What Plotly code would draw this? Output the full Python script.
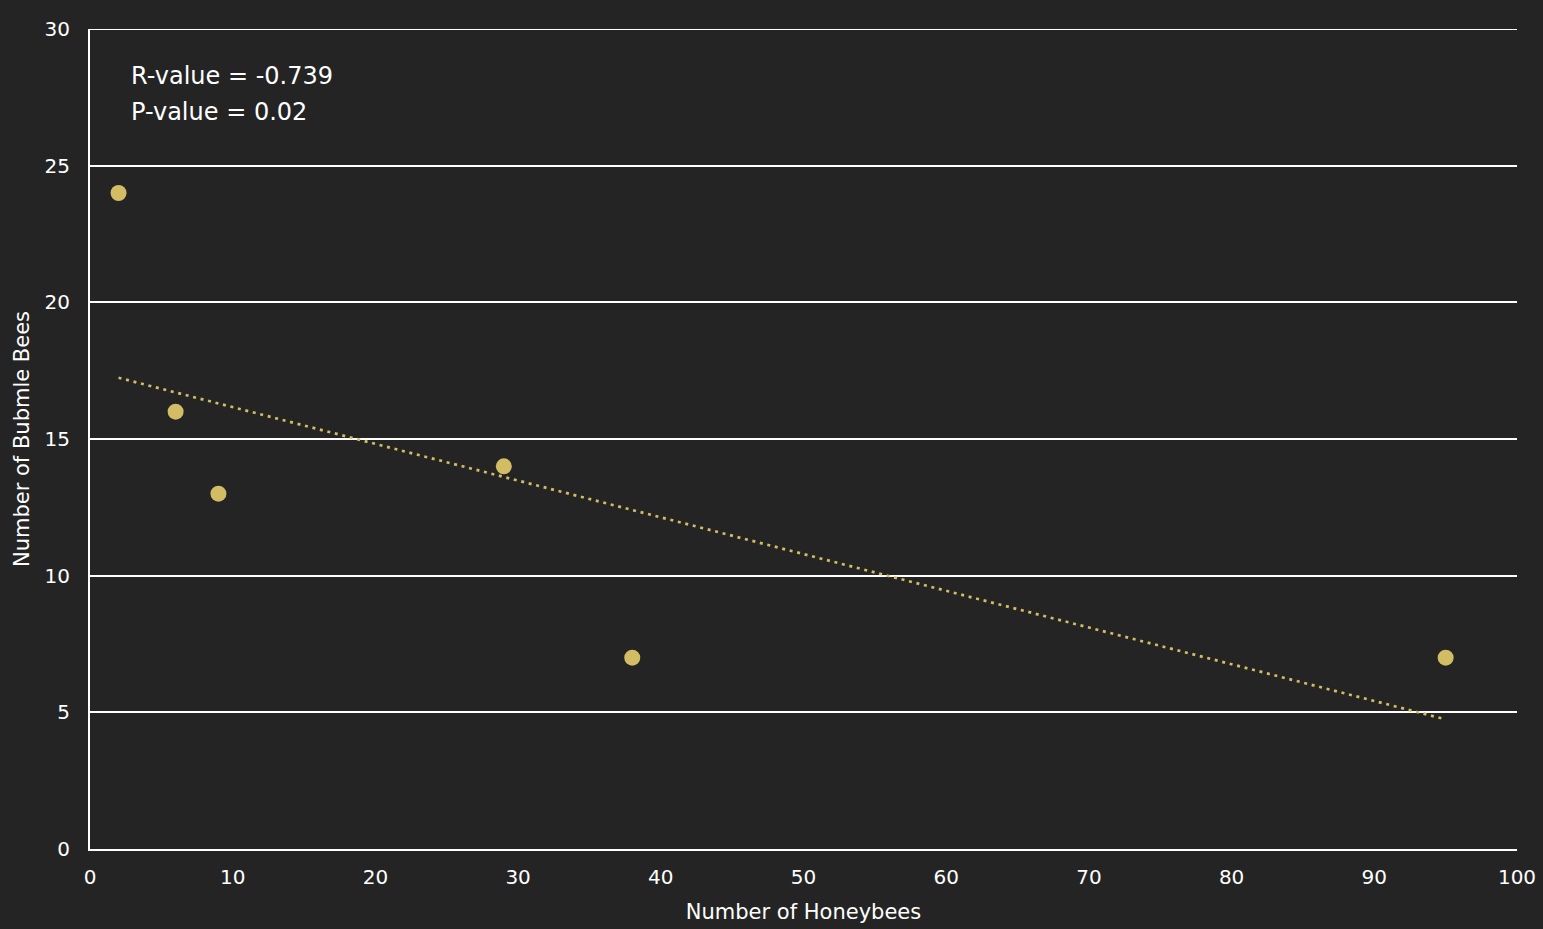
import numpy as np
import plotly.graph_objects as go

honeybees = [2, 6, 9, 29, 38, 95]
bumblebees = [24, 16, 13, 14, 7, 7]
x_ticks = [0, 10, 20, 30, 40, 50, 60, 70, 80, 90, 100]
y_ticks = [0, 5, 10, 15, 20, 25, 30]

x = np.array(honeybees, dtype=float)
y = np.array(bumblebees, dtype=float)
slope, intercept = np.polyfit(x, y, 1)
fit_x = [x.min(), x.max()]
fit_y = [slope * v + intercept for v in fit_x]
r_value = np.corrcoef(x, y)[0, 1]

BG = "#242424"
GOLD = "#D2BC64"
FONT = "'DejaVu Sans', sans-serif"

fig = go.Figure()
fig.add_trace(go.Scatter(
    x=fit_x, y=fit_y, mode="lines",
    line=dict(color=GOLD, width=2.7, dash="3px,4.7px"),
    hoverinfo="skip", showlegend=False))
fig.add_trace(go.Scatter(
    x=honeybees, y=bumblebees, mode="markers",
    marker=dict(color=GOLD, size=16, line=dict(width=0)),
    showlegend=False))

fig.add_annotation(
    xref="paper", yref="paper", x=0.027, y=0.9427,
    xanchor="left", yanchor="middle", align="left", showarrow=False,
    text=f"R-value = {r_value:.3f}",
    font=dict(family=FONT, size=24, color="white"))
fig.add_annotation(
    xref="paper", yref="paper", x=0.027, y=0.8988,
    xanchor="left", yanchor="middle", align="left", showarrow=False,
    text="P-value = 0.02",
    font=dict(family=FONT, size=24, color="white"))

# top gridline at the upper end of the y range
fig.add_shape(type="line", xref="paper", yref="y",
              x0=0, x1=1, y0=y_ticks[-1], y1=y_ticks[-1],
              line=dict(color="white", width=2), layer="below")

fig.update_layout(
    width=1543, height=929,
    paper_bgcolor=BG, plot_bgcolor=BG,
    margin=dict(l=90, r=26, t=29, b=80),
    font=dict(family=FONT, color="white", size=20),
    xaxis=dict(range=[0, 100], tickvals=x_ticks, showgrid=False,
               showline=True, linecolor="white", linewidth=2,
               zeroline=False, ticks="", ticklabelstandoff=9,
               automargin=False,
               title=dict(text="Number of Honeybees", standoff=16,
                          font=dict(size=21))),
    yaxis=dict(range=[0, 30], tickvals=y_ticks, showgrid=True,
               gridcolor="white", gridwidth=2,
               showline=True, linecolor="white", linewidth=2,
               zeroline=False, ticks="", ticklabelstandoff=14,
               automargin=False,
               title=dict(text="Number of Bubmle Bees", standoff=9,
                          font=dict(size=21))),
)

fig.write_html("out.html", config={"displayModeBar": False},
               post_script="document.body.style.margin='0';")
